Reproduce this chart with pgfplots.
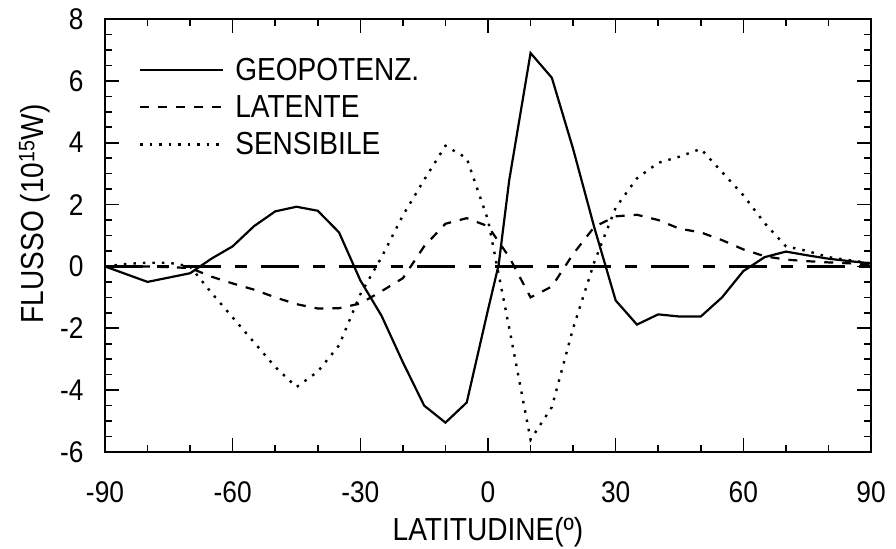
\documentclass[border=0pt]{standalone}
\usepackage{fontspec}
\setmainfont{Liberation Sans}[FakeStretch=0.88]
\usepackage{pgfplots}
\pgfplotsset{compat=1.18}
\begin{document}
\begin{tikzpicture}
\useasboundingbox (-105bp,-97bp) rectangle (791bp,452bp);
\begin{axis}[
 scale only axis, width=766bp, height=433bp,
 xmin=-90, xmax=90, ymin=-6, ymax=8,
 xtick={-90,-60,...,90}, ytick={-6,-4,...,8},
 minor x tick num=2, minor y tick num=3,
 tick pos=both, tick align=inside,
 major tick length=14bp, minor tick length=7bp,
 every tick/.style={line width=1.6bp, black},
 axis line style={line width=2.4bp},
 /pgf/number format/assume math mode=true,
 ticklabel style={font=\fontsize{30}{36}\selectfont},
 xticklabel style={yshift=-26bp},
 yticklabel style={xshift=-18bp},
 xlabel={LATITUDINE(º)}, ylabel={FLUSSO (10\textsuperscript{15}W)},
 label style={font=\fontsize{32}{38}\selectfont},
 xlabel style={at={(axis description cs:0.5,-0.186)}, anchor=center},
 ylabel style={at={(axis description cs:-0.092,0.55)}, anchor=center},
 legend style={draw=none, fill=none, at={(rel axis cs:0.044,0.914)}, anchor=north west, inner sep=0pt, font=\fontsize{32}{38}\selectfont, row sep=9.5bp, cells={anchor=west}},
 legend image code/.code={\draw[#1] (0bp,0bp) -- (83bp,0bp); \path (92bp,0bp);},
]
\addplot[black, line width=2.2bp, dash pattern=on 38bp off 14bp on 12bp off 14bp, forget plot] coordinates {(-90,0) (90,0)};
\addplot[black, line width=2.2bp] coordinates {
(-90,0) (-80,-0.5) (-70,-0.22) (-65,0.25) (-60,0.65) (-55,1.3) (-50,1.78) (-45,1.93) (-40,1.8) (-35,1.1) (-30,-0.45) (-25,-1.6) (-20,-3.1) (-15,-4.5) (-10,-5.05) (-5,-4.4) (0,-1.4) (2.5,0.05) (5,2.8) (10,6.9) (15,6.1) (20,3.8) (25,1.25) (30,-1.1) (35,-1.88) (40,-1.55) (45,-1.62) (50,-1.62) (55,-1.0) (60,-0.15) (65,0.3) (70,0.48) (75,0.36) (80,0.25) (85,0.17) (90,0.1)};
\addlegendentry{GEOPOTENZ.}
\addplot[black, line width=2.2bp, dash pattern=on 9bp off 9bp] coordinates {
(-90,0) (-80,0) (-70,-0.05) (-65,-0.33) (-60,-0.55) (-55,-0.75) (-50,-1.0) (-45,-1.22) (-40,-1.36) (-35,-1.35) (-30,-1.2) (-25,-0.8) (-20,-0.38) (-15,0.65) (-10,1.38) (-5,1.56) (0,1.3) (5,0.3) (10,-1.0) (15,-0.65) (20,0.4) (25,1.28) (30,1.62) (35,1.67) (40,1.5) (45,1.22) (50,1.1) (55,0.85) (60,0.55) (65,0.33) (70,0.22) (75,0.17) (80,0.13) (85,0.1) (90,0.05)};
\addlegendentry{LATENTE}
\addplot[black, line width=2.4bp, dash pattern=on 2.5bp off 7bp] coordinates {
(-90,0) (-85,0.08) (-80,0.12) (-75,0.12) (-70,0) (-65,-0.85) (-60,-1.65) (-55,-2.45) (-50,-3.25) (-45,-3.9) (-40,-3.4) (-35,-2.55) (-30,-0.9) (-25,0.3) (-20,1.65) (-15,2.8) (-10,3.9) (-5,3.5) (0,1.5) (5,-2.0) (10,-5.6) (15,-4.55) (20,-2.0) (25,0.15) (30,1.9) (35,2.85) (40,3.35) (45,3.55) (50,3.8) (55,3.05) (60,2.3) (65,1.4) (70,0.65) (75,0.5) (80,0.3) (85,0.2) (90,0.1)};
\addlegendentry{SENSIBILE}
\end{axis}
\end{tikzpicture}
\end{document}
